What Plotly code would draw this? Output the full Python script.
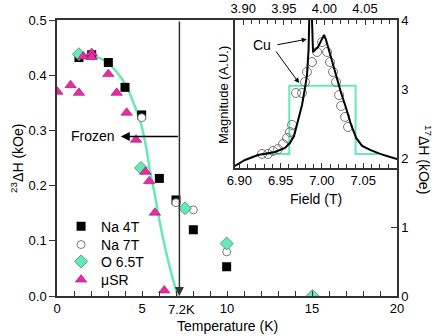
import plotly.graph_objects as go

# ---- main panel data (Temperature in K, 23-Na linewidth in kOe)
na4_t = [1.29, 2.04, 3.02, 4.0, 4.98, 6.02, 7.0, 8.02, 9.98]
na4_dh = [0.432, 0.437, 0.423, 0.378, 0.328, 0.213, 0.174, 0.120, 0.053]

na7_t = [4.98, 7.0, 8.02, 9.98]
na7_dh = [0.323, 0.169, 0.156, 0.080]

o_t = [1.29, 4.94, 7.53, 9.98, 15.04]
o_dh = [0.438, 0.232, 0.159, 0.095, 0.0]

musr_t = [0.02, 0.8, 1.29, 1.55, 2.04, 2.04, 3.02, 3.51, 4.1, 4.65, 5.2, 5.42, 5.76, 6.31]
musr_dh = [0.370, 0.382, 0.368, 0.434, 0.440, 0.433, 0.402, 0.368, 0.332, 0.283,
           0.225, 0.208, 0.151, 0.010]

# guide curve
fit_t = [2.24, 2.72, 3.51, 4.1, 4.59, 4.98, 5.24, 5.45, 5.71, 6.2, 6.65, 7.1]
fit_dh = [0.434, 0.428, 0.406, 0.379, 0.343, 0.307, 0.270, 0.230, 0.190, 0.110, 0.050, 0.0]

# ---- inset data (field in T, magnitude in arbitrary units)
spec_f = [6.8948, 6.9069, 6.9226, 6.9432, 6.9553, 6.9614, 6.9662, 6.9711, 6.9759, 6.9795,
          6.9819, 6.9838, 6.9850, 6.9874, 6.9892, 6.9953, 7.0025, 7.0050, 7.0110, 7.0171,
          7.0232, 7.0292, 7.0353, 7.0414, 7.0486, 7.0583, 7.0704, 7.0825, 7.0910]
spec_m = [0.014, 0.054, 0.088, 0.108, 0.135, 0.169, 0.216, 0.324, 0.426, 0.541,
          0.628, 0.797, 1.10, 1.10, 0.784, 0.818, 0.899, 0.865, 0.743, 0.622,
          0.507, 0.405, 0.291, 0.203, 0.149, 0.122, 0.095, 0.074, 0.061]

circ_f = [6.9275, 6.9347, 6.9408, 6.9469, 6.9529, 6.9578, 6.9614, 6.9638, 6.9686, 6.9759,
          6.9795, 6.9819, 6.9880, 6.9941, 7.0001, 7.0062, 7.0098, 7.0134, 7.0171, 7.0207,
          7.0232, 7.0280, 7.0316]
circ_m = [0.095, 0.095, 0.115, 0.128, 0.162, 0.203, 0.243, 0.291, 0.507, 0.507,
          0.581, 0.649, 0.716, 0.784, 0.851, 0.784, 0.716, 0.649, 0.581, 0.493,
          0.419, 0.345, 0.277]

box_f = [6.9263, 6.9605, 6.9605, 7.0407, 7.0407, 7.0679]
box_m = [0.095, 0.095, 0.556, 0.556, 0.095, 0.095]

GREEN = "#66E8B8"
MAGENTA = "#EA2AA2"
AXC = "#333333"
FONT = "Liberation Sans, Arial, sans-serif"

fig = go.Figure()

fig.add_trace(go.Scatter(x=fit_t, y=fit_dh, mode="lines", line=dict(color=GREEN, width=2.5, shape="spline"),
                         showlegend=False, hoverinfo="skip"))
fig.add_trace(go.Scatter(x=na4_t, y=na4_dh, mode="markers", name="Na 4T", legend="legend",
                         marker=dict(symbol="square", size=9, color="black")))
fig.add_trace(go.Scatter(x=na7_t, y=na7_dh, mode="markers", name="Na 7T", legend="legend2",
                         marker=dict(symbol="circle", size=8, color="white",
                                     line=dict(color="#777777", width=1))))
fig.add_trace(go.Scatter(x=o_t, y=o_dh, mode="markers", name="O 6.5T", legend="legend3",
                         marker=dict(symbol="diamond", size=10, color=GREEN,
                                     line=dict(color="#3C8C6C", width=0.8))))
fig.add_trace(go.Scatter(x=musr_t, y=musr_dh, mode="markers", name="μSR", legend="legend4",
                         marker=dict(symbol="triangle-up", size=10, color=MAGENTA,
                                     line=dict(color="#9A1A6A", width=0.6))))

# inset
fig.add_trace(go.Scatter(x=box_f, y=box_m, xaxis="x3", yaxis="y3", mode="lines",
                         line=dict(color=GREEN, width=2), showlegend=False))
fig.add_trace(go.Scatter(x=circ_f, y=circ_m, xaxis="x3", yaxis="y3", mode="markers",
                         marker=dict(symbol="circle-open", size=9, color="#777777", line=dict(width=1)),
                         showlegend=False))
fig.add_trace(go.Scatter(x=spec_f, y=spec_m, xaxis="x3", yaxis="y3", mode="lines",
                         line=dict(color="black", width=2), showlegend=False))
fig.add_trace(go.Scatter(x=[3.95], y=[-1], xaxis="x4", yaxis="y3", mode="markers",
                         marker=dict(opacity=0), showlegend=False, hoverinfo="skip"))
# dummy trace so yaxis2 is drawn
fig.add_trace(go.Scatter(x=[0], y=[-1], yaxis="y2", mode="markers", marker=dict(opacity=0),
                         showlegend=False, hoverinfo="skip"))

tickfont = dict(family=FONT, size=13, color="black")
common = dict(showgrid=False, zeroline=False, showline=True, linecolor=AXC, linewidth=1.5,
              tickcolor=AXC, tickfont=tickfont, automargin=False)


def leg(y):
    return dict(x=0.012, y=y, xanchor="left", yanchor="middle", bgcolor="rgba(0,0,0,0)",
                font=dict(family=FONT, size=14, color="black"))


fig.update_layout(
    width=436, height=336,
    margin=dict(l=57, r=39, t=20, b=40),
    paper_bgcolor="white", plot_bgcolor="white",
    font=dict(family=FONT, size=13, color="black"),
    xaxis=dict(range=[0, 20], tickvals=[0, 5, 10, 15, 20], ticks="inside", ticklen=5,
               minor=dict(dtick=1, ticks="inside", ticklen=5, tickcolor=AXC),
               mirror=True, **common),
    yaxis=dict(range=[0, 0.5], dtick=0.1, tickformat=".1f", ticks="outside", ticklen=6, **common),
    yaxis2=dict(range=[0, 4], dtick=1, overlaying="y", side="right", anchor="x",
                ticks="inside", ticklen=6, **common),
    xaxis3=dict(domain=[0.5235, 1], anchor="y3", range=[6.8948, 7.0908],
                tickvals=[6.90, 6.95, 7.00, 7.05], ticktext=["6.90", "6.95", "7.00", "7.05"],
                ticks="inside", ticklen=5,
                minor=dict(dtick=0.01, ticks="inside", ticklen=4, tickcolor=AXC), **common),
    xaxis4=dict(overlaying="x3", anchor="y3", side="top", range=[3.8898, 4.0894],
                tickvals=[3.90, 3.95, 4.00, 4.05], ticktext=["3.90", "3.95", "4.00", "4.05"],
                ticks="inside", ticklen=5,
                minor=dict(dtick=0.01, ticks="inside", ticklen=4, tickcolor=AXC), **common),
    yaxis3=dict(domain=[0.4638, 1], anchor="x3", range=[0, 1], showticklabels=False,
                ticks="", mirror=True, **common),
    legend=leg(0.251), legend2=leg(0.185), legend3=leg(0.124), legend4=leg(0.058),
)

C = dict(xanchor="center", yanchor="middle", showarrow=False)
ann = [
    # Tc line with arrow
    dict(x=7.2, y=0.0, ax=7.2, ay=0.5, xref="x", yref="y", axref="x", ayref="y",
         showarrow=True, arrowhead=2, arrowsize=1.2, arrowwidth=1.5, arrowcolor=AXC, text=""),
    # Frozen arrow
    dict(x=3.75, y=0.289, ax=7.2, ay=0.289, xref="x", yref="y", axref="x", ayref="y",
         showarrow=True, arrowhead=2, arrowsize=1.2, arrowwidth=1.5, arrowcolor="black", text=""),
    dict(x=3.55, y=0.289, xref="x", yref="y", text="Frozen", showarrow=False, xanchor="right",
         yanchor="middle", font=dict(size=14)),
    dict(x=7.3, y=-0.05, xref="x", yref="paper", text="7.2K", font=dict(size=13), **C),
    # axis titles
    dict(x=0.5, y=-0.11, xref="paper", yref="paper", text="Temperature (K)", font=dict(size=14), **C),
    dict(x=-0.118, y=0.5, xref="paper", yref="paper", text="<sup>23</sup>ΔH (kOe)",
         textangle=-90, font=dict(size=14), **C),
    dict(x=1.082, y=0.493, xref="paper", yref="paper", text="<sup>17</sup>ΔH (kOe)",
         textangle=90, font=dict(size=14), **C),
    dict(x=0.488, y=0.728, xref="paper", yref="paper", text="Magnitude (A.U.)",
         textangle=-90, font=dict(size=13), **C),
    dict(x=0.762, y=0.351, xref="paper", yref="paper", text="Field (T)", font=dict(size=14), **C),
    # Cu labels in inset
    dict(x=6.9275, y=0.831, xref="x3", yref="y3", text="Cu", font=dict(size=14), **C),
    dict(x=6.9816, y=0.870, ax=6.9444, ay=0.831, xref="x3", yref="y3", axref="x3", ayref="y3",
         showarrow=True, arrowhead=2, arrowsize=1, arrowwidth=1, arrowcolor="black", text=""),
    dict(x=6.9723, y=0.574, ax=6.9432, ay=0.797, xref="x3", yref="y3", axref="x3", ayref="y3",
         showarrow=True, arrowhead=2, arrowsize=1, arrowwidth=1, arrowcolor="black", text=""),
]
fig.update_layout(annotations=ann)

# drop the browser's default 8px body margin so the figure sits at the window corner
fig.write_html("out.html", config={"displayModeBar": False},
               post_script="document.body.style.margin='0px';")
